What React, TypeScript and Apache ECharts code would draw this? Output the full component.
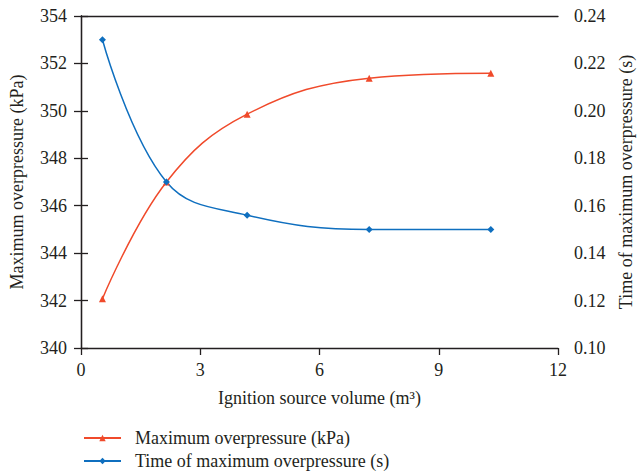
import React, { useEffect, useRef } from "react";
import * as echarts from "echarts";

const volumes = [0.54, 2.15, 4.18, 7.25, 10.31];
const maxOverpressure = [342.08, 347.0, 349.86, 351.38, 351.59];
const timeOfMax = [0.23, 0.17, 0.156, 0.15, 0.15];
const seriesNames = ["Maximum overpressure (kPa)", "Time of maximum overpressure (s)"];

const FONT = "'Liberation Serif', 'DejaVu Serif', serif";
const TXT = "#231f20";
const RED = "#f04a2b";
const BLUE = "#0f6fbf";

export default function App() {
  const ref = useRef<HTMLDivElement>(null);
  useEffect(() => {
    if (!ref.current) return;
    const chart = echarts.init(ref.current, null, { renderer: "svg" });
    const axisLine = { show: true, lineStyle: { color: TXT, width: 1.3 } };
    const axisTick = { show: true, inside: false, length: 7, lineStyle: { color: TXT, width: 1.3 } };
    const axisLabelBase = { color: TXT, fontFamily: FONT, fontSize: 18 };
    const nameStyle = { color: TXT, fontFamily: FONT, fontSize: 18 };
    chart.setOption({
      animation: false,
      backgroundColor: "#ffffff",
      textStyle: { fontFamily: FONT },
      grid: {
        left: 81,
        right: 79,
        top: 16,
        bottom: 127,
        containLabel: false,
        outerBoundsMode: "none",
      },
      legend: {
        orient: "vertical",
        left: 78,
        top: 424,
        height: 60,
        itemWidth: 37,
        itemHeight: 8,
        itemGap: 5,
        textStyle: { color: TXT, fontFamily: FONT, fontSize: 18, padding: [0, 0, 0, 9] },
        data: seriesNames,
      },
      xAxis: [
        {
          type: "value",
          min: 0,
          max: 12,
          interval: 3,
          position: "bottom",
          name: "Ignition source volume (m³)",
          nameLocation: "middle",
          nameGap: 41,
          nameTextStyle: nameStyle,
          axisLine,
          axisTick,
          axisLabel: { ...axisLabelBase, margin: 13 },
          splitLine: { show: false },
        },
        {
          type: "value",
          min: 0,
          max: 12,
          position: "top",
          axisLine,
          axisTick: { show: false },
          axisLabel: { show: false },
          splitLine: { show: false },
        },
      ],
      yAxis: [
        {
          type: "value",
          min: 340,
          max: 354,
          interval: 2,
          position: "left",
          name: "Maximum overpressure (kPa)",
          nameLocation: "middle",
          nameRotate: 90,
          nameGap: 55,
          nameTextStyle: nameStyle,
          axisLine,
          axisTick,
          axisLabel: { ...axisLabelBase, margin: 14 },
          splitLine: { show: false },
        },
        {
          type: "value",
          min: 0.1,
          max: 0.24,
          interval: 0.02,
          position: "right",
          name: "Time of maximum overpressure (s)",
          nameLocation: "middle",
          nameRotate: 90,
          nameGap: 59,
          nameTextStyle: nameStyle,
          axisLine,
          axisTick,
          axisLabel: {
            ...axisLabelBase,
            margin: 16,
            formatter: (v: number) => v.toFixed(2),
          },
          splitLine: { show: false },
        },
      ],
      series: [
        {
          name: seriesNames[0],
          type: "line",
          xAxisIndex: 0,
          yAxisIndex: 0,
          smooth: 0.4,
          symbol: "triangle",
          symbolSize: 7,
          showAllSymbol: true,
          itemStyle: { color: RED },
          lineStyle: { color: RED, width: 1.5 },
          data: volumes.map((x, i) => [x, maxOverpressure[i]]),
        },
        {
          name: seriesNames[1],
          type: "line",
          xAxisIndex: 0,
          yAxisIndex: 1,
          smooth: 0.4,
          symbol: "diamond",
          symbolSize: 7,
          itemStyle: { color: BLUE },
          lineStyle: { color: BLUE, width: 1.5 },
          data: volumes.map((x, i) => [x, timeOfMax[i]]),
        },
      ],
    });
    return () => chart.dispose();
  }, []);
  return <div ref={ref} style={{ width: 637, height: 475, position: "absolute", left: 0, top: 0 }} />;
}
